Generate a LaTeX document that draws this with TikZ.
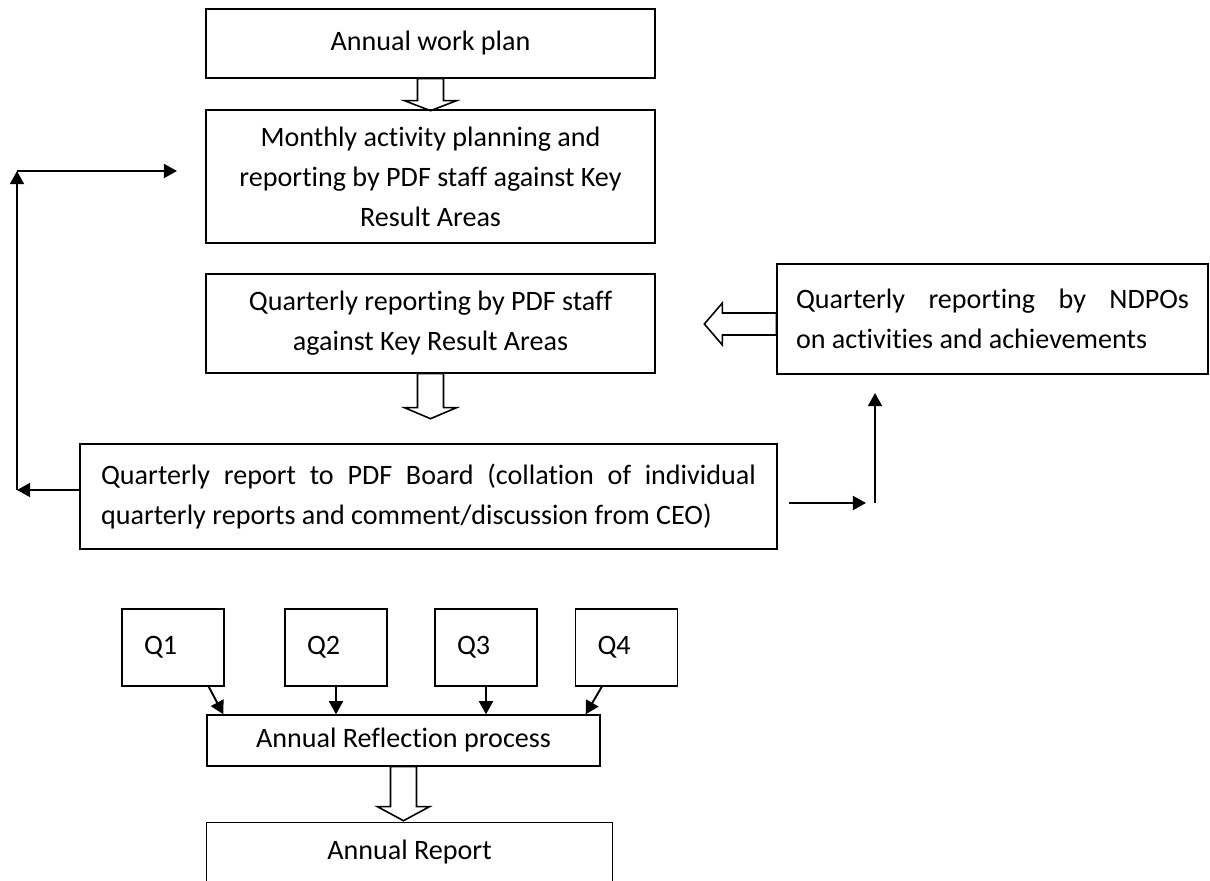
\documentclass[tikz,border=0pt]{standalone}
\usepackage{fontspec}
\setmainfont{Carlito}[Ligatures=NoCommon]
\usetikzlibrary{arrows.meta,calc}

\tikzset{
  box/.style={draw, line width=0.8pt, inner sep=0pt, align=center, font=\fontsize{16}{22.7}\selectfont,
    execute at begin node={\spaceskip=0pt\xspaceskip=0pt\relax}},
  qbox/.style={box, minimum width=2.04cm, minimum height=1.54cm, text width=1.16cm, align=left},
  link/.style={line width=1.1pt, -{Triangle[length=7.5pt,width=8pt]}},
  hollow/.style={line width=0.9pt, line join=miter}
}

% wide hollow arrow pointing down: anchor, shaft length, head length
\newcommand{\hollowdown}[3]{%
  \draw[hollow] ($(#1)+(-13,0)$) -- ++(0,#2) -- ++(-13,0) -- ++(26,#3) -- ++(26,-#3) -- ++(-13,0) -- ++(0,-#2) -- cycle;}
% wide hollow arrow pointing left
\newcommand{\hollowleft}[3]{%
  \draw[hollow] ($(#1)+(0,-6)$) -- ++(-#2,0) -- ++(0,-10) -- ++(-#3,21) -- ++(#3,21) -- ++(0,-10) -- ++(#2,0) -- cycle;}

\begin{document}
\begin{tikzpicture}[x=0.02cm,y=-0.02cm]
  \useasboundingbox (0,0) rectangle (1210,881);

  % Main column
  \node[box, minimum width=8.98cm, minimum height=1.38cm] (plan) at (430.5,43.5) {Annual work plan};
  \node[box, minimum width=8.98cm, minimum height=2.66cm] (monthly) at (430.5,176.5)
    {Monthly activity planning and\\reporting by PDF staff against Key\\Result Areas};
  \node[box, minimum width=8.98cm, minimum height=1.98cm] (staff) at (430.5,323.5)
    {Quarterly reporting by PDF staff\\against Key Result Areas};
  \node[box, minimum width=8.62cm, minimum height=2.2cm, text width=7.86cm, align=left] (ndpo) at (992.5,319)
    {\makebox[7.86cm][s]{Quarterly reporting by NDPOs}\\on activities and achievements};
  \node[box, minimum width=13.94cm, minimum height=2.1cm, text width=13.1cm, align=left] (board) at (428.5,496.5)
    {\makebox[13.1cm][s]{Quarterly report to PDF Board (collation of individual}\\quarterly reports and comment/discussion from CEO)};

  % Hollow arrows
  \hollowdown{plan.south}{22}{10}
  \hollowdown{staff.south}{34}{11}
  \hollowleft{ndpo.west}{54}{18}

  % Feedback loop on the left
  \coordinate (lb) at (17,490);
  \coordinate (lt) at (17,171);
  \coordinate (le) at (177,171);
  \draw[link] (board.west |- lb) -- (lb);
  \draw[link] (lb) -- (lt);
  \draw[link] (lt) -- (le);

  % Link towards the NDPOs
  \coordinate (rs) at (789,503);
  \coordinate (re) at (866,503);
  \coordinate (rv) at (875,503);
  \coordinate (rt) at (875,393);
  \draw[link] (rs) -- (re);
  \draw[link] (rv) -- (rt);

  % Quarters
  \foreach \q/\x in {1/173, 2/336, 3/486, 4/626.5} {
      \node[qbox] (q\q) at (\x,647.5) {Q\q};
    }
  \node[box, minimum width=7.86cm, minimum height=1.02cm] (refl) at (403.5,740.5) {Annual Reflection process};

  \draw[link] ([xshift=-0.32cm]q1.south east) -- ([xshift=0.34cm]refl.north west);
  \draw[link] (q2.south) -- (q2.south |- refl.north);
  \draw[link] (q3.south) -- (q3.south |- refl.north);
  \draw[link] ([xshift=0.54cm]q4.south west) -- ([xshift=-0.3cm]refl.north east);

  \hollowdown{refl.south}{40}{14}

  % Annual report, open at the bottom edge
  \node[box, draw=none, minimum width=8.1cm, minimum height=1.16cm] (report) at (409.5,852) {Annual Report};
  \draw[line width=0.8pt] (report.south west) |- (report.north east) -- (report.south east);
\end{tikzpicture}
\end{document}
